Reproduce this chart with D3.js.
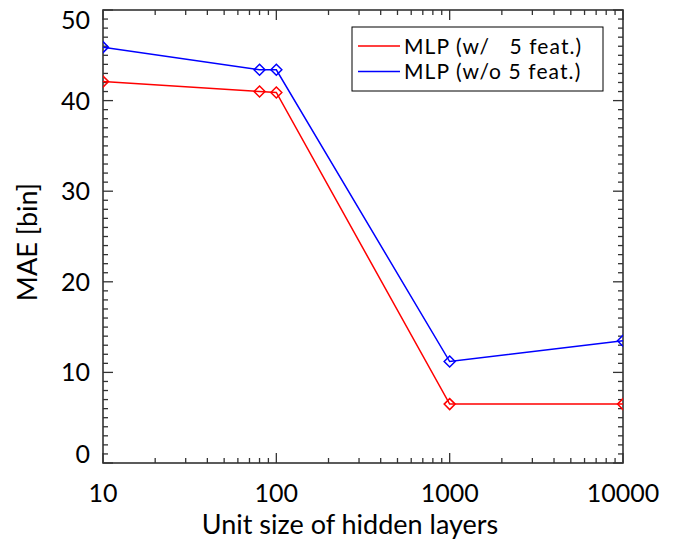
<!DOCTYPE html>
<html>
<head>
<meta charset="utf-8">
<script src="https://cdn.jsdelivr.net/npm/d3@7"></script>
<style>
body { margin: 0; background: #fff; }
text { font-family: Lato, "Open Sans", sans-serif; fill: #000; }
</style>
</head>
<body>
<svg id="chart" width="675" height="541"></svg>
<script>
// data
var units = [10, 80, 100, 1000, 10000];
var maeWith = [42.1, 41.0, 40.9, 6.5, 6.5];
var maeWithout = [45.9, 43.4, 43.4, 11.2, 13.5];
var xTicks = [10, 100, 1000, 10000];
var yTicks = [0, 10, 20, 30, 40, 50];
var legendLabels = ['MLP (w/   5 feat.)', 'MLP (w/o 5 feat.)'];
var colors = ['#ff0000', '#0000ff'];

var svg = d3.select('#chart');
var padding = {t: 10, r: 52, b: 78, l: 103};
var svgWidth = +svg.attr('width');
var svgHeight = +svg.attr('height');
var chartWidth = svgWidth - padding.l - padding.r;
var chartHeight = svgHeight - padding.t - padding.b;

var xScale = d3.scaleLog().domain([10, 10000]).range([0, chartWidth]);
var yScale = d3.scaleLinear().domain([0, 50]).range([chartHeight, 0]);

var chartG = svg.append('g')
    .attr('transform', 'translate(' + [padding.l, padding.t] + ')');

svg.append('defs').append('clipPath').attr('id', 'clip')
    .append('rect').attr('width', chartWidth).attr('height', chartHeight);

var axisColor = '#333';

// minor ticks
var xMinor = [];
[10, 100, 1000].forEach(function(d) {
    for (var k = 2; k <= 9; k++) xMinor.push(d * k);
});
var yMinor = d3.range(0, 51, 1).filter(function(d) { return d % 10 != 0; });

function drawTicks(g, data, isX, len) {
    data.forEach(function(d) {
        if (isX) {
            var x = xScale(d);
            g.append('line').attr('x1', x).attr('x2', x).attr('y1', chartHeight).attr('y2', chartHeight - len);
            g.append('line').attr('x1', x).attr('x2', x).attr('y1', 0).attr('y2', len);
        } else {
            var y = yScale(d);
            g.append('line').attr('y1', y).attr('y2', y).attr('x1', 0).attr('x2', len);
            g.append('line').attr('y1', y).attr('y2', y).attr('x1', chartWidth).attr('x2', chartWidth - len);
        }
    });
}

var tickG = chartG.append('g').attr('stroke', axisColor).attr('stroke-width', 1.3);
drawTicks(tickG, xTicks, true, 10);
drawTicks(tickG, xMinor, true, 5);
drawTicks(tickG, yTicks, false, 10);
drawTicks(tickG, yMinor, false, 5);

chartG.append('rect')
    .attr('width', chartWidth).attr('height', chartHeight)
    .attr('fill', 'none').attr('stroke', axisColor).attr('stroke-width', 1.6);

// tick labels
chartG.selectAll('.xlabel')
    .data(xTicks)
    .enter().append('text')
    .attr('class', 'xlabel')
    .attr('x', function(d) { return xScale(d); })
    .attr('y', chartHeight + 39)
    .attr('text-anchor', 'middle')
    .style('font-size', '25px')
    .text(function(d) { return d; });

chartG.selectAll('.ylabel')
    .data(yTicks)
    .enter().append('text')
    .attr('class', 'ylabel')
    .attr('x', -13)
    .attr('y', function(d) {
        var y = yScale(d);
        if (d == 0) y -= 9;
        if (d == 50) y += 10;
        return y;
    })
    .attr('dy', '0.36em')
    .attr('text-anchor', 'end')
    .style('font-size', '25px')
    .text(function(d) { return d; });

// axis titles
svg.append('text')
    .attr('x', 350)
    .attr('y', 534)
    .attr('text-anchor', 'middle')
    .style('font-size', '27px')
    .text('Unit size of hidden layers');

svg.append('text')
    .attr('transform', 'translate(37,242) rotate(-90)')
    .attr('text-anchor', 'middle')
    .style('font-size', '27px')
    .text('MAE [bin]');

// series
var series = [maeWith, maeWithout];
var line = d3.line()
    .x(function(d, i) { return xScale(units[i]); })
    .y(function(d) { return yScale(d); });

var plotG = chartG.append('g').attr('clip-path', 'url(#clip)');

series.forEach(function(values, s) {
    plotG.append('path')
        .datum(values)
        .attr('d', line)
        .attr('fill', 'none')
        .attr('stroke', colors[s])
        .attr('stroke-width', 1.5);

    plotG.selectAll('.marker' + s)
        .data(values)
        .enter().append('path')
        .attr('class', 'marker' + s)
        .attr('d', 'M0,-5.5L5.5,0L0,5.5L-5.5,0Z')
        .attr('transform', function(d, i) {
            return 'translate(' + [xScale(units[i]), yScale(d)] + ')';
        })
        .attr('fill', 'none')
        .attr('stroke', colors[s])
        .attr('stroke-width', 1.5);
});

// legend
var legendG = svg.append('g').attr('transform', 'translate(352,27)');
legendG.append('rect')
    .attr('width', 251).attr('height', 64)
    .attr('fill', '#fff').attr('stroke', '#000').attr('stroke-width', 1);

var rowY = function(i) { return 19 + i * 25.6; };

legendLabels.forEach(function(label, i) {
    legendG.append('line')
        .attr('x1', 6).attr('x2', 48)
        .attr('y1', rowY(i)).attr('y2', rowY(i))
        .attr('stroke', colors[i]).attr('stroke-width', 1.5);
    legendG.append('text')
        .attr('x', 52)
        .attr('y', rowY(i))
        .attr('dy', '0.36em')
        .attr('xml:space', 'preserve')
        .style('white-space', 'pre')
        .style('font-size', '21px')
        .style('letter-spacing', '1.1px')
        .text(label);
});
</script>
</body>
</html>
